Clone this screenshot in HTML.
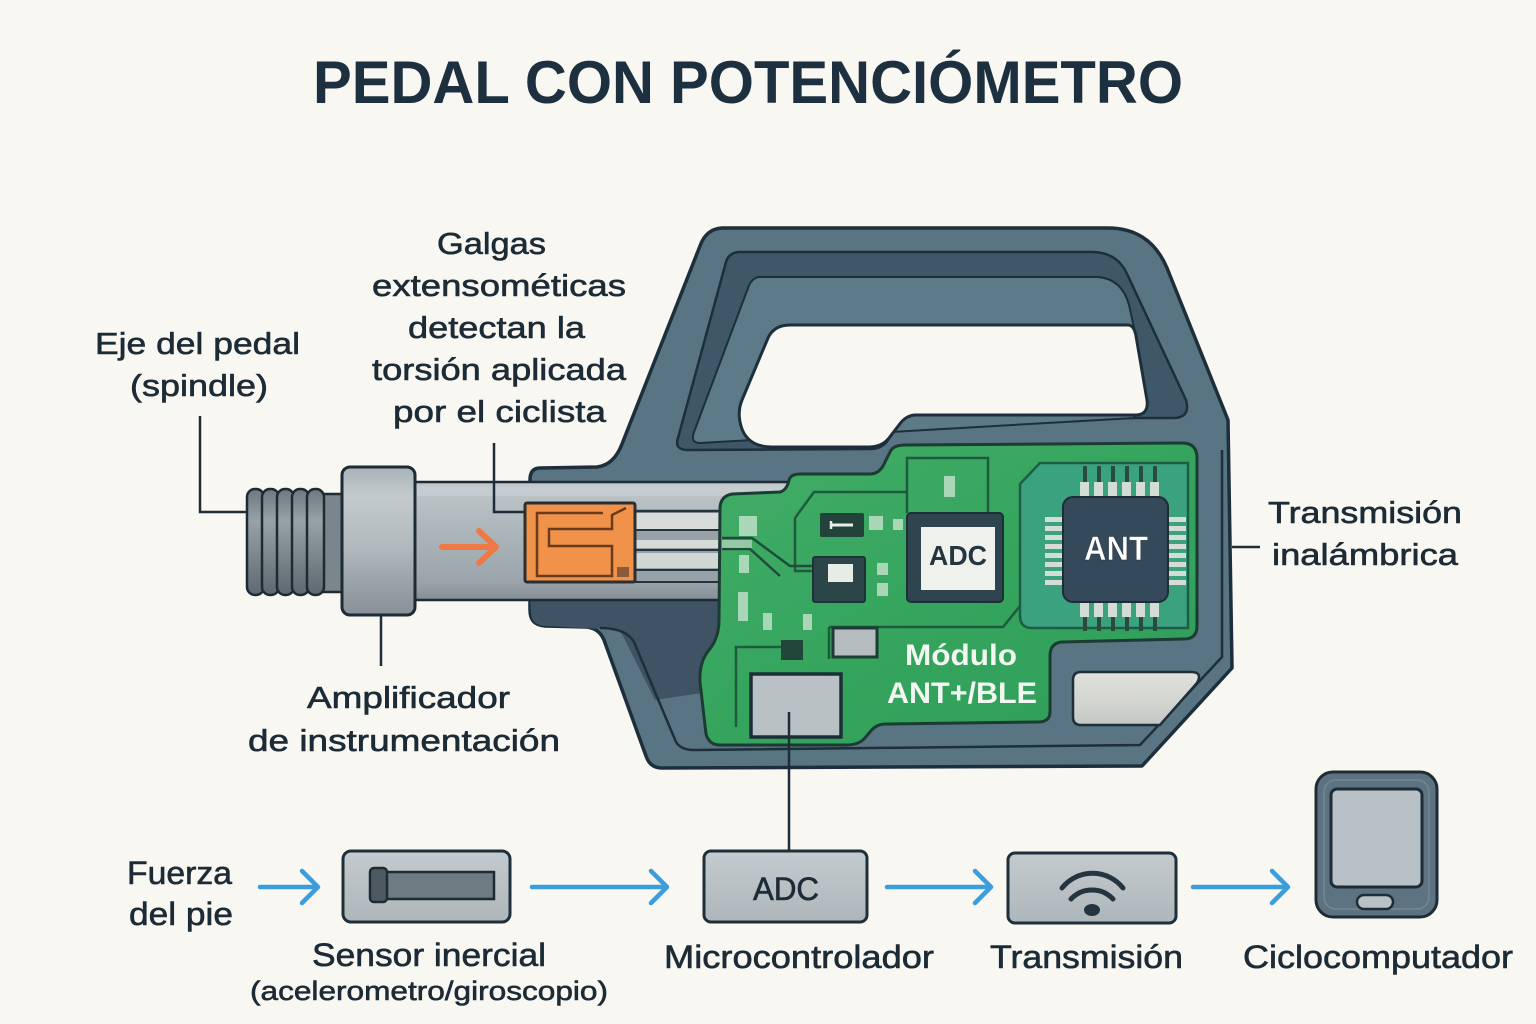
<!DOCTYPE html>
<html><head><meta charset="utf-8"><style>
html,body{margin:0;padding:0;background:#f8f7f2;}
svg{display:block;}
.lbl{font-family:"Liberation Sans",sans-serif;fill:#1c2b36;stroke:#1c2b36;stroke-width:0.6px;}
</style></head><body>
<svg width="1536" height="1024" viewBox="0 0 1536 1024" xmlns="http://www.w3.org/2000/svg">
<defs>
<linearGradient id="tube" x1="0" y1="0" x2="0" y2="1">
<stop offset="0" stop-color="#c2c9cd"/><stop offset="0.15" stop-color="#b9c1c5"/><stop offset="0.5" stop-color="#a9b2b7"/><stop offset="0.85" stop-color="#9aa4aa"/><stop offset="1" stop-color="#848e95"/></linearGradient>
<linearGradient id="collar" x1="0" y1="0" x2="0" y2="1">
<stop offset="0" stop-color="#a9b2b7"/><stop offset="0.2" stop-color="#c3cacd"/><stop offset="0.55" stop-color="#b1b9bd"/><stop offset="0.75" stop-color="#9ca5aa"/><stop offset="1" stop-color="#879197"/></linearGradient>
<linearGradient id="thread" x1="0" y1="0" x2="0" y2="1">
<stop offset="0" stop-color="#6c777f"/><stop offset="0.3" stop-color="#97a1a7"/><stop offset="0.6" stop-color="#7f8990"/><stop offset="1" stop-color="#5d6870"/></linearGradient>
<linearGradient id="pcb" x1="0" y1="0" x2="1" y2="1">
<stop offset="0" stop-color="#43ad68"/><stop offset="0.5" stop-color="#35a55e"/><stop offset="1" stop-color="#2f9d58"/></linearGradient>
<linearGradient id="box" x1="0" y1="0" x2="0" y2="1">
<stop offset="0" stop-color="#c4cbce"/><stop offset="1" stop-color="#adb6ba"/></linearGradient>
<linearGradient id="batt" x1="0" y1="0" x2="0" y2="1">
<stop offset="0" stop-color="#e0e1dd"/><stop offset="0.6" stop-color="#d2d4d0"/><stop offset="1" stop-color="#c3c6c2"/></linearGradient>
</defs>

<!-- Title -->
<text x="313" y="103" font-family="Liberation Sans, sans-serif" font-weight="bold" font-size="60" fill="#1d3040" textLength="870" lengthAdjust="spacingAndGlyphs">PEDAL CON POTENCIÓMETRO</text>

<!-- Pedal body -->
<path d="M540 468 L597 467 Q614 465 622 444 L700 246 Q706 229 722 228 L1108 228 Q1150 228 1167 268 L1228 420 L1232 668 L1142 766 L662 768 Q650 768 646 756 L604 640 Q599 628 586 627 L545 626 Q530 625 530 610 L530 480 Q530 468 540 468 Z" fill="#597584" stroke="#1c2f3b" stroke-width="3.5" stroke-linejoin="round"/>
<!-- dark ring -->
<path d="M740 252 L1092 252 Q1118 252 1128 276 L1186 400 Q1191 418 1173 418 L912 418 Q902 418 895 430 L888 440 Q882 449 870 449 L688 450 Q674 450 678 438 L726 262 Q729 252 740 252 Z" fill="#3f5868" stroke="#1c2f3b" stroke-width="2.5"/>
<!-- lighter panel -->
<path d="M760 277 L1098 277 Q1122 279 1129 305 L1138 345 L1134 418 L700 443 Q690 443 694 432 L748 288 Q752 277 760 277 Z" fill="#5d7a89" stroke="#1c2f3b" stroke-width="2"/>
<!-- hole -->
<path d="M790 325 L1128 325 Q1134 325 1136 336 L1147 400 Q1149 415 1135 415 L916 415 Q906 415 899 425 L889 438 Q882 447 868 447 L772 447 Q747 447 741 426 Q737 412 742 400 L768 338 Q774 325 790 325 Z" fill="#f8f7f2" stroke="#1c2f3b" stroke-width="3"/>
<!-- dark lower-left area -->
<path d="M530 598 L722 598 L722 690 L655 700 L620 630 L545 626 Q531 625 531 612 Z" fill="#3f5364"/>
<!-- inner rim lines -->
<path d="M600 628 Q626 628 634 642 L676 742 Q681 750 694 750 L1140 745 L1222 657 L1222 450" fill="none" stroke="#1c2f3b" stroke-width="2.5"/>

<!-- Thread -->
<rect x="300" y="494" width="46" height="98" fill="#7b858c" stroke="#1d2b35" stroke-width="2.5"/>
<rect x="247" y="489" width="17" height="106" rx="8" fill="url(#thread)" stroke="#1d2b35" stroke-width="2.5"/>
<rect x="262" y="489" width="17" height="106" rx="8" fill="url(#thread)" stroke="#1d2b35" stroke-width="2.5"/>
<rect x="277" y="489" width="17" height="106" rx="8" fill="url(#thread)" stroke="#1d2b35" stroke-width="2.5"/>
<rect x="292" y="489" width="17" height="106" rx="8" fill="url(#thread)" stroke="#1d2b35" stroke-width="2.5"/>
<rect x="307" y="489" width="17" height="106" rx="8" fill="url(#thread)" stroke="#1d2b35" stroke-width="2.5"/>

<!-- Tube -->
<rect x="410" y="482" width="378" height="118" fill="url(#tube)" stroke="#1d2b35" stroke-width="2.5"/>
<rect x="410" y="486" width="378" height="10" fill="#c9d0d3" opacity="0.7"/>
<!-- Collar -->
<rect x="342" y="467" width="73" height="148" rx="8" fill="url(#collar)" stroke="#1d2b35" stroke-width="3"/>

<!-- stripes to PCB -->
<g>
<rect x="635" y="510" width="90" height="72" fill="#97a1a7"/>
<rect x="635" y="513" width="90" height="16" fill="#d7dcda"/>
<rect x="635" y="540" width="120" height="8" fill="#d4dbd6"/>
<rect x="635" y="553" width="90" height="15" fill="#d0d6d4"/>
<line x1="635" y1="511" x2="725" y2="511" stroke="#24343e" stroke-width="2.5"/>
<line x1="635" y1="530" x2="725" y2="530" stroke="#24343e" stroke-width="2"/>
<line x1="635" y1="550" x2="725" y2="550" stroke="#24343e" stroke-width="2"/>
<line x1="635" y1="570" x2="725" y2="570" stroke="#24343e" stroke-width="2"/>
<line x1="635" y1="582" x2="725" y2="582" stroke="#24343e" stroke-width="2"/>
</g>

<!-- Strain gauge -->
<rect x="525" y="503" width="110" height="79" rx="2" fill="#f0924a" stroke="#2a2f33" stroke-width="3"/>
<path d="M603 513 H537 V576 H612 V546 H549 V529 H612 V515 L626 508" fill="none" stroke="#6b3b1e" stroke-width="2.5"/>
<rect x="617" y="567" width="12" height="10" fill="#8a5a3a"/>
<!-- orange arrow -->
<line x1="442" y1="547" x2="494" y2="547" stroke="#ee7945" stroke-width="6" stroke-linecap="round"/>
<polyline points="479,531 496,547 479,563" fill="none" stroke="#ee7945" stroke-width="6" stroke-linecap="round" stroke-linejoin="round"/>

<!-- PCB -->
<path d="M720 507 Q721 496 732 494 L780 492 Q787 490 789 480 Q791 474 800 474 L870 474 Q880 474 885 462 L890 452 Q893 445 905 445 L1182 443 Q1197 443 1197 458 L1197 626 Q1197 639 1184 639 L1062 642 Q1050 643 1050 656 L1050 712 Q1050 722 1038 722 L886 724 Q876 724 870 732 L864 739 Q858 745 846 745 L720 745 Q709 745 706 734 L700 682 Q699 662 709 650 Q719 638 719 620 Z" fill="url(#pcb)" stroke="#1c3b33" stroke-width="3"/>
<!-- ANT region -->
<path d="M1040 463 L1188 463 L1188 628 L1032 628 Q1020 628 1020 616 L1020 484 Z" fill="#3aa27f" stroke="#1f5c45" stroke-width="2.5"/>
<!-- traces -->
<g fill="none" stroke="#1f5a3d" stroke-width="2.5">
<path d="M907 513 V458 H988 V513"/>
<path d="M907 492 H814 L795 518 V571 H813"/>
<path d="M829 627 H1003 L1020 606"/>
<path d="M736 727 V647 H803"/>
<path d="M829 627 V659"/>
</g>
<!-- trace from gauge -->
<path d="M722 538 L752 538 L790 566 L813 566" fill="none" stroke="#1f4d3c" stroke-width="2.5"/>
<path d="M722 549 L750 549 L780 576" fill="none" stroke="#1f4d3c" stroke-width="2.5"/>
<rect x="722" y="540" width="30" height="8" fill="#b8d6c0" opacity="0.7"/>

<!-- light pads -->
<g fill="#b6dcc1" opacity="0.9">
<rect x="739" y="516" width="18" height="20"/>
<rect x="869" y="516" width="14" height="14"/>
<rect x="893" y="519" width="10" height="11"/>
<rect x="738" y="592" width="10" height="29"/>
<rect x="763" y="613" width="9" height="17"/>
<rect x="803" y="614" width="9" height="16"/>
<rect x="877" y="563" width="11" height="12"/>
<rect x="877" y="583" width="11" height="13"/>
<rect x="944" y="476" width="11" height="21"/>
<rect x="739" y="555" width="10" height="18"/>
</g>
<!-- small components -->
<rect x="820" y="513" width="44" height="24" rx="2" fill="#23423a"/>
<line x1="831" y1="525" x2="853" y2="525" stroke="#e8efe9" stroke-width="3"/>
<line x1="831" y1="521" x2="831" y2="529" stroke="#e8efe9" stroke-width="2.5"/>
<rect x="813" y="557" width="52" height="45" rx="2" fill="#2b4548" stroke="#1c3436" stroke-width="2"/>
<rect x="828" y="564" width="25" height="18" fill="#e6ede7"/>
<rect x="833" y="628" width="44" height="29" fill="#b5bdc1" stroke="#1f3b33" stroke-width="3"/>
<rect x="781" y="640" width="22" height="20" fill="#23463a"/>
<rect x="751" y="674" width="90" height="63" fill="#b9c1c5" stroke="#1d2e38" stroke-width="3.5"/>

<!-- ADC chip -->
<rect x="907" y="513" width="96" height="89" rx="4" fill="#2e4550" stroke="#1c2e36" stroke-width="2"/>
<rect x="921" y="527" width="74" height="63" fill="#eef1ec"/>
<text x="958" y="565" text-anchor="middle" font-family="Liberation Sans, sans-serif" font-weight="bold" font-size="28" fill="#243540" textLength="58" lengthAdjust="spacingAndGlyphs">ADC</text>

<!-- ANT chip pins -->
<g>
<g fill="#2a4a40">
<rect x="1083" y="466" width="4" height="18"/><rect x="1097" y="466" width="4" height="18"/><rect x="1111" y="466" width="4" height="18"/><rect x="1125" y="466" width="4" height="18"/><rect x="1139" y="466" width="4" height="18"/><rect x="1153" y="466" width="4" height="18"/>
<rect x="1083" y="615" width="4" height="16"/><rect x="1097" y="615" width="4" height="16"/><rect x="1111" y="615" width="4" height="16"/><rect x="1125" y="615" width="4" height="16"/><rect x="1139" y="615" width="4" height="16"/><rect x="1153" y="615" width="4" height="16"/>
</g>
<g fill="#d3ddd5">
<rect x="1080" y="482" width="9" height="15"/><rect x="1094" y="482" width="9" height="15"/><rect x="1108" y="482" width="9" height="15"/><rect x="1122" y="482" width="9" height="15"/><rect x="1136" y="482" width="9" height="15"/><rect x="1150" y="482" width="9" height="15"/>
<rect x="1080" y="603" width="9" height="14"/><rect x="1094" y="603" width="9" height="14"/><rect x="1108" y="603" width="9" height="14"/><rect x="1122" y="603" width="9" height="14"/><rect x="1136" y="603" width="9" height="14"/><rect x="1150" y="603" width="9" height="14"/>
<rect x="1045" y="517" width="18" height="5"/><rect x="1045" y="526" width="18" height="5"/><rect x="1045" y="535" width="18" height="5"/><rect x="1045" y="544" width="18" height="5"/><rect x="1045" y="553" width="18" height="5"/><rect x="1045" y="562" width="18" height="5"/><rect x="1045" y="571" width="18" height="5"/><rect x="1045" y="580" width="18" height="5"/>
<rect x="1168" y="517" width="18" height="5"/><rect x="1168" y="526" width="18" height="5"/><rect x="1168" y="535" width="18" height="5"/><rect x="1168" y="544" width="18" height="5"/><rect x="1168" y="553" width="18" height="5"/><rect x="1168" y="562" width="18" height="5"/><rect x="1168" y="571" width="18" height="5"/><rect x="1168" y="580" width="18" height="5"/>
</g>
</g>
<rect x="1063" y="497" width="105" height="105" rx="10" fill="#34495a" stroke="#1d2c36" stroke-width="2"/>
<text x="1116" y="560" text-anchor="middle" font-family="Liberation Sans, sans-serif" font-weight="bold" font-size="34" fill="#ffffff" stroke="#1d2c36" stroke-width="0.5" textLength="64" lengthAdjust="spacingAndGlyphs">ANT</text>

<!-- Module text -->
<text x="961" y="665" text-anchor="middle" font-family="Liberation Sans, sans-serif" font-weight="bold" font-size="30" fill="#f2f7f2" textLength="112" lengthAdjust="spacingAndGlyphs">Módulo</text>
<text x="962" y="703" text-anchor="middle" font-family="Liberation Sans, sans-serif" font-weight="bold" font-size="30" fill="#f2f7f2" textLength="150" lengthAdjust="spacingAndGlyphs">ANT+/BLE</text>

<!-- battery -->
<path d="M1081 672 L1191 672 Q1203 672 1197 683 L1160 725 L1081 725 Q1073 725 1073 717 L1073 680 Q1073 672 1081 672 Z" fill="url(#batt)" stroke="#1c2f3b" stroke-width="2.5"/>

<!-- Leader lines -->
<g fill="none" stroke="#1e2d38" stroke-width="2.5">
<path d="M200 416 V512 H246"/>
<path d="M494 443 V512 H525"/>
<path d="M381 615 V666"/>
<path d="M1232 547 H1260"/>
<path d="M789 712 V850"/>
</g>

<!-- Top labels -->
<text class="lbl" x="437" y="254" font-size="31" textLength="109" lengthAdjust="spacingAndGlyphs">Galgas</text>
<text class="lbl" x="372" y="296" font-size="31" textLength="254" lengthAdjust="spacingAndGlyphs">extensométicas</text>
<text class="lbl" x="408" y="338" font-size="31" textLength="177" lengthAdjust="spacingAndGlyphs">detectan la</text>
<text class="lbl" x="372" y="380" font-size="31" textLength="254" lengthAdjust="spacingAndGlyphs">torsión aplicada</text>
<text class="lbl" x="393" y="422" font-size="31" textLength="213" lengthAdjust="spacingAndGlyphs">por el ciclista</text>
<text class="lbl" x="95" y="354" font-size="31" textLength="205" lengthAdjust="spacingAndGlyphs">Eje del pedal</text>
<text class="lbl" x="130" y="396" font-size="31" textLength="138" lengthAdjust="spacingAndGlyphs">(spindle)</text>
<text class="lbl" x="307" y="708" font-size="31" textLength="203" lengthAdjust="spacingAndGlyphs">Amplificador</text>
<text class="lbl" x="248" y="751" font-size="31" textLength="312" lengthAdjust="spacingAndGlyphs">de instrumentación</text>
<text class="lbl" x="1268" y="523" font-size="31" textLength="194" lengthAdjust="spacingAndGlyphs">Transmisión</text>
<text class="lbl" x="1272" y="565" font-size="31" textLength="186" lengthAdjust="spacingAndGlyphs">inalámbrica</text>

<!-- Bottom flow -->
<g fill="none" stroke="#3b9ddb" stroke-width="4.5" stroke-linecap="round" stroke-linejoin="round">
<line x1="260" y1="887" x2="316" y2="887"/><polyline points="302,871 318,887 302,903"/>
<line x1="532" y1="887" x2="666" y2="887"/><polyline points="651,871 667,887 651,903"/>
<line x1="887" y1="887" x2="989" y2="887"/><polyline points="975,871 991,887 975,903"/>
<line x1="1193" y1="887" x2="1287" y2="887"/><polyline points="1272,871 1288,887 1272,903"/>
</g>

<rect x="343" y="851" width="167" height="71" rx="8" fill="url(#box)" stroke="#1f2f3a" stroke-width="3"/>
<rect x="386" y="872" width="108" height="27" fill="#6f7b83" stroke="#1e2b33" stroke-width="2.5"/>
<rect x="370" y="868" width="17" height="34" rx="4" fill="#4e5a62" stroke="#1e2b33" stroke-width="2.5"/>

<rect x="704" y="851" width="163" height="71" rx="7" fill="url(#box)" stroke="#1f2f3a" stroke-width="3"/>
<text class="lbl" x="786" y="900" text-anchor="middle" font-size="32" stroke-width="0.3" textLength="66" lengthAdjust="spacingAndGlyphs">ADC</text>

<rect x="1008" y="853" width="168" height="70" rx="7" fill="url(#box)" stroke="#1f2f3a" stroke-width="3"/>
<path d="M1062 888 A39 39 0 0 1 1123 888" fill="none" stroke="#253540" stroke-width="5" stroke-linecap="round"/>
<path d="M1071 899 A29 29 0 0 1 1113 899" fill="none" stroke="#253540" stroke-width="5" stroke-linecap="round"/>
<ellipse cx="1092" cy="910" rx="8" ry="6" fill="#253540"/>

<rect x="1316" y="772" width="121" height="145" rx="17" fill="#5e7381" stroke="#1d2c36" stroke-width="3"/>
<rect x="1324" y="780" width="105" height="129" rx="12" fill="none" stroke="#6e8390" stroke-width="2"/>
<rect x="1331" y="789" width="91" height="98" rx="6" fill="#b7c1c6" stroke="#1d2c36" stroke-width="3"/>
<rect x="1357" y="895" width="36" height="14" rx="7" fill="#b7c1c6" stroke="#1d2c36" stroke-width="2.5"/>

<text class="lbl" x="127" y="884" font-size="32" textLength="105" lengthAdjust="spacingAndGlyphs">Fuerza</text>
<text class="lbl" x="129" y="925" font-size="32" textLength="104" lengthAdjust="spacingAndGlyphs">del pie</text>
<text class="lbl" x="312" y="966" font-size="32" textLength="234" lengthAdjust="spacingAndGlyphs">Sensor inercial</text>
<text class="lbl" x="250" y="1000" font-size="27" stroke-width="0.4" textLength="358" lengthAdjust="spacingAndGlyphs">(acelerometro/giroscopio)</text>
<text class="lbl" x="664" y="968" font-size="32" textLength="270" lengthAdjust="spacingAndGlyphs">Microcontrolador</text>
<text class="lbl" x="990" y="968" font-size="32" textLength="193" lengthAdjust="spacingAndGlyphs">Transmisión</text>
<text class="lbl" x="1243" y="968" font-size="32" textLength="270" lengthAdjust="spacingAndGlyphs">Ciclocomputador</text>
</svg>
</body></html>
